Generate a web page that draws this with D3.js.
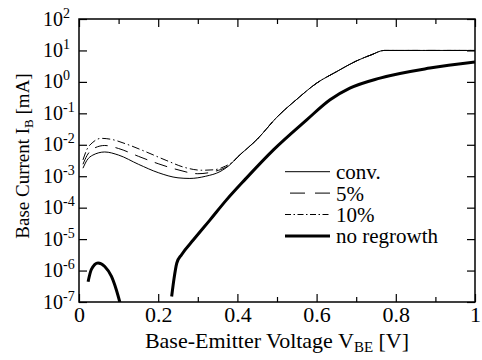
<!DOCTYPE html>
<html>
<head>
<meta charset="utf-8">
<script src="https://cdn.jsdelivr.net/npm/d3@7"></script>
<style>
  body { margin: 0; background: #fff; }
  svg, svg text, svg tspan { font-family: 'Liberation Serif', 'Times New Roman', Times, serif !important; }
</style>
</head>
<body>
<div class="svgContainer"></div>
<script>
// base-emitter voltage [V] and base current [mA]
const lowConvV = [0.01, 0.02, 0.035, 0.065, 0.10, 0.15, 0.20, 0.25, 0.28, 0.32, 0.356, 0.381];
const lowConvI = [1.8e-3, 3.2e-3, 4.7e-3, 5.9e-3, 4.7e-3, 2.4e-3, 1.3e-3, 8.9e-4, 8.5e-4, 1.0e-3, 1.4e-3, 2.3e-3];

const low5V = [0.01, 0.02, 0.035, 0.065, 0.10, 0.15, 0.20, 0.25, 0.30, 0.34, 0.37, 0.385];
const low5I = [2.4e-3, 4.5e-3, 7.4e-3, 9.5e-3, 7.6e-3, 4.3e-3, 2.5e-3, 1.6e-3, 1.2e-3, 1.4e-3, 1.9e-3, 2.5e-3];

const low10V = [0.01, 0.02, 0.035, 0.056, 0.08, 0.12, 0.166, 0.22, 0.267, 0.31, 0.34, 0.37, 0.39];
const low10I = [3.3e-3, 7.1e-3, 1.2e-2, 1.6e-2, 1.5e-2, 1.05e-2, 6.2e-3, 3.2e-3, 1.9e-3, 1.55e-3, 1.6e-3, 2.1e-3, 3.0e-3];

// the three regrowth curves share this part
const highV = [0.40, 0.45, 0.50, 0.55, 0.60, 0.65, 0.70, 0.74, 0.77, 1.0];
const highI = [4.0e-3, 1.5e-2, 7.6e-2, 0.28, 0.91, 2.1, 4.6, 7.4, 10, 10];

const noRegrowthAV = [0.023, 0.031, 0.048, 0.065, 0.082, 0.094, 0.104];
const noRegrowthAI = [4.4e-7, 1.07e-6, 1.74e-6, 1.35e-6, 6.5e-7, 2.5e-7, 9e-8];

const noRegrowthBV = [0.234, 0.240, 0.247, 0.259, 0.289, 0.331, 0.373, 0.419, 0.491, 0.575, 0.634, 0.684, 0.76, 0.886, 1.0];
const noRegrowthBI = [1.5e-7, 5.6e-7, 1.74e-6, 3.2e-6, 9.5e-6, 4.1e-5, 1.8e-4, 7.8e-4, 6.9e-3, 6.2e-2, 0.27, 0.63, 1.32, 2.75, 4.3];

const xMajor = [0, 0.2, 0.4, 0.6, 0.8, 1];
const xMinor = [0.1, 0.3, 0.5, 0.7, 0.9];
const xLabels = ['0', '0.2', '0.4', '0.6', '0.8', '1'];
const yExponents = [2, 1, 0, -1, -2, -3, -4, -5, -6, -7];

const legendNames = ['conv.', '5%', '10%', 'no regrowth'];

const width = 482;
const height = 360;
const plotL = 79, plotR = 475, plotT = 19, plotB = 302;

const svg = d3.select('.svgContainer').append('svg')
  .attr('width', width)
  .attr('height', height);

const x = d3.scaleLinear().domain([0, 1]).range([plotL, plotR]);
const y = d3.scaleLog().domain([1e-7, 1e2]).range([plotB, plotT]);

const zip = (vs, is) => vs.map((v, i) => ({v: v, i: is[i]}));

const series = [
  {pts: [zip(lowConvV, lowConvI).concat(zip(highV, highI))], w: 1, dash: null, legendDash: null, off: 0},
  {pts: [zip(low5V, low5I).concat(zip(highV, highI))], w: 1, dash: '13,8', legendDash: '15,10', off: 20},
  {pts: [zip(low10V, low10I).concat(zip(highV, highI))], w: 1, dash: '8,3,1.5,3', legendDash: '6,2.5,1.5,2.5', off: 0},
  {pts: [zip(noRegrowthAV, noRegrowthAI), zip(noRegrowthBV, noRegrowthBI)], w: 3, dash: null, legendDash: null, off: 0}
];

svg.append('clipPath').attr('id', 'plotClip')
  .append('rect')
  .attr('x', plotL).attr('y', plotT)
  .attr('width', plotR - plotL).attr('height', plotB - plotT);

const line = d3.line()
  .x(d => x(d.v))
  .y(d => y(d.i))
  .curve(d3.curveMonotoneX);

const body = svg.append('g').attr('clip-path', 'url(#plotClip)');

series.forEach(s => {
  s.pts.forEach(p => {
    body.append('path')
      .attr('d', line(p))
      .attr('fill', 'none')
      .attr('stroke', '#000')
      .attr('stroke-width', s.w)
      .attr('stroke-dasharray', s.dash)
      .attr('stroke-linejoin', 'round');
  });
});

// axes, ticks pointing inward
function styleAxis(g) {
  g.select('.domain').remove();
  g.attr('font-family', null);
  g.selectAll('line').attr('stroke', '#000').attr('stroke-width', 1.2);
}

svg.append('g')
  .attr('transform', 'translate(0,' + plotB + ')')
  .call(d3.axisBottom(x).tickValues(xMajor).tickSize(-8).tickPadding(4)
    .tickFormat((d, i) => xLabels[i]))
  .call(styleAxis)
  .selectAll('text').attr('font-size', 22).attr('fill', '#000');

svg.append('g')
  .attr('transform', 'translate(0,' + plotB + ')')
  .call(d3.axisBottom(x).tickValues(xMinor).tickSize(-5).tickFormat(''))
  .call(styleAxis);

svg.append('g')
  .attr('transform', 'translate(0,' + plotT + ')')
  .call(d3.axisTop(x).tickValues(xMajor).tickSize(-8).tickFormat(''))
  .call(styleAxis);

svg.append('g')
  .attr('transform', 'translate(0,' + plotT + ')')
  .call(d3.axisTop(x).tickValues(xMinor).tickSize(-5).tickFormat(''))
  .call(styleAxis);

const yTicks = yExponents.map(e => Math.pow(10, e));

svg.append('g')
  .attr('transform', 'translate(' + plotL + ',0)')
  .call(d3.axisLeft(y).tickValues(yTicks).tickSize(-8).tickFormat(''))
  .call(styleAxis);

svg.append('g')
  .attr('transform', 'translate(' + plotR + ',0)')
  .call(d3.axisRight(y).tickValues(yTicks).tickSize(-8).tickFormat(''))
  .call(styleAxis);

// y tick labels are left-aligned in the original
const yLab = svg.append('g').selectAll('text')
  .data(yExponents)
  .enter()
  .append('text')
  .attr('x', 43)
  .attr('y', d => y(Math.pow(10, d)) + 6.5)
  .attr('font-size', 20);
yLab.append('tspan').text('10');
yLab.append('tspan').attr('dy', -8).attr('font-size', 14).text(d => d < 0 ? '-' + (-d) : String(d));

svg.append('rect')
  .attr('x', plotL).attr('y', plotT)
  .attr('width', plotR - plotL).attr('height', plotB - plotT)
  .attr('fill', 'none').attr('stroke', '#000').attr('stroke-width', 1.5);

// axis titles
const xt = svg.append('text')
  .attr('x', (plotL + plotR) / 2)
  .attr('y', 348)
  .attr('text-anchor', 'middle')
  .attr('font-size', 22);
xt.append('tspan').text('Base-Emitter Voltage V');
xt.append('tspan').attr('font-size', 15).attr('dy', 4).text('BE');
xt.append('tspan').attr('dy', -4).text(' [V]');

const yt = svg.append('text')
  .attr('transform', 'translate(29,156) rotate(-90)')
  .attr('text-anchor', 'middle')
  .attr('font-size', 19);
yt.append('tspan').text('Base Current I');
yt.append('tspan').attr('font-size', 13).attr('dy', 4).text('B');
yt.append('tspan').attr('dy', -4).text(' [mA]');

// legend
const legend = svg.append('g');
legendNames.forEach((name, k) => {
  const ly = 171.7 + k * 21.4;
  legend.append('line')
    .attr('x1', 285).attr('x2', 330)
    .attr('y1', ly).attr('y2', ly)
    .attr('stroke', '#000')
    .attr('stroke-width', series[k].w)
    .attr('stroke-dasharray', series[k].legendDash)
    .attr('stroke-dashoffset', series[k].off);
  legend.append('text')
    .attr('x', 336).attr('y', ly + 7.5)
    .attr('font-size', 21)
    .text(name);
});
</script>
</body>
</html>
